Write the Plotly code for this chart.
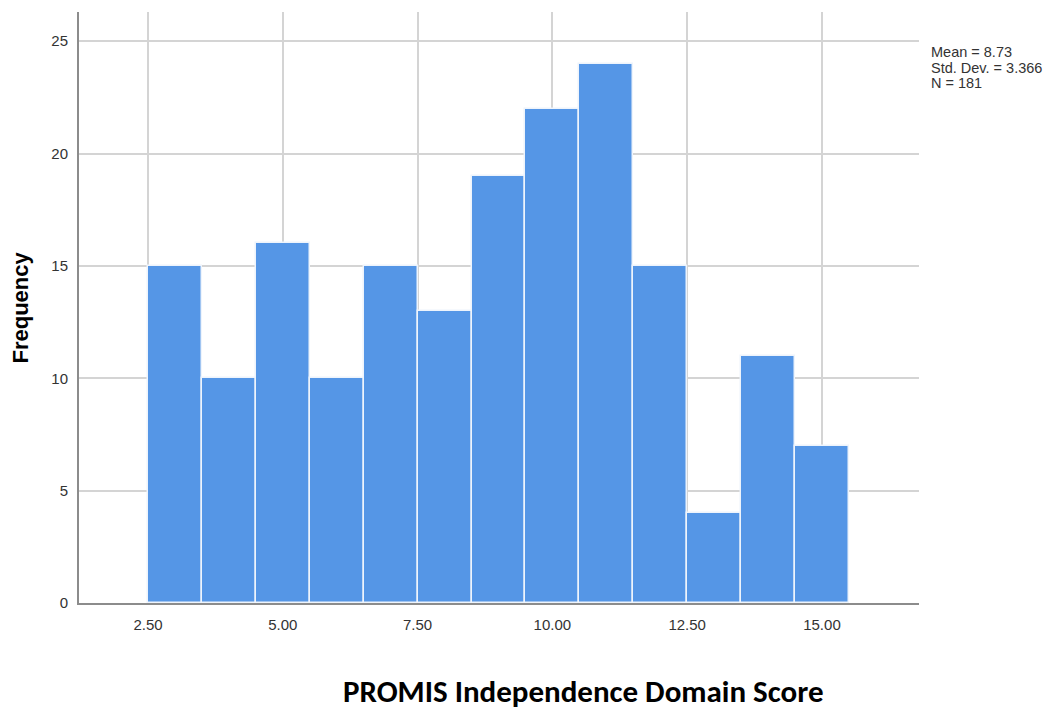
import plotly.graph_objects as go

bin_centers = [3, 4, 5, 6, 7, 8, 9, 10, 11, 12, 13, 14, 15]
frequencies = [15, 10, 16, 10, 15, 13, 19, 22, 24, 15, 4, 11, 7]
x_ticks = [2.5, 5.0, 7.5, 10.0, 12.5, 15.0]
x_tick_labels = ["2.50", "5.00", "7.50", "10.00", "12.50", "15.00"]
y_ticks = [0, 5, 10, 15, 20, 25]
stats_lines = ["Mean = 8.73", "Std. Dev. = 3.366", "N = 181"]

fig = go.Figure()
fig.add_trace(go.Bar(
    x=bin_centers, y=frequencies, width=1,
    marker=dict(color="#5596e6", line=dict(color="#eef4fc", width=1.5)),
    hoverinfo="x+y",
))

# plot area in page pixels: x 79..919, y 12..603
stat_annots = []
for i, line in enumerate(stats_lines):
    ypix = 52 + 15.5 * i
    stat_annots.append(dict(
        text=line, xref="paper", yref="paper",
        x=(929 - 79) / 840, y=(603 - ypix) / 591,
        xanchor="left", yanchor="middle", showarrow=False,
        align="left", font=dict(size=14.5, color="#333")))

fig.update_layout(
    width=1040, height=701,
    margin=dict(l=71, r=129, t=4, b=106),
    paper_bgcolor="white", plot_bgcolor="white",
    showlegend=False,
    bargap=0,
    font=dict(family="Liberation Sans, Arial, sans-serif", size=15, color="#333"),
    xaxis=dict(
        range=[1.22, 16.8], tickvals=x_ticks, ticktext=x_tick_labels,
        showgrid=True, gridcolor="#d4d4d4", gridwidth=1.5,
        showline=True, linecolor="#8c8c8c", linewidth=2,
        zeroline=False, ticks="", ticklabelstandoff=7,
    ),
    yaxis=dict(
        range=[0, 26.3], tickvals=y_ticks,
        showgrid=True, gridcolor="#d4d4d4", gridwidth=1.5,
        showline=True, linecolor="#8c8c8c", linewidth=2,
        zeroline=False, ticks="", ticklabelstandoff=6,
    ),
    annotations=stat_annots + [
        dict(text="<b>PROMIS Independence Domain Score</b>", xref="paper", yref="paper",
             x=0.6, y=-0.149, xanchor="center", yanchor="middle", showarrow=False,
             font=dict(family="Carlito, Lato, Liberation Sans, Arial, sans-serif", size=31, color="black")),
        dict(text="<b>Frequency</b>", xref="paper", yref="paper",
             x=-0.0702, y=0.5, xanchor="center", yanchor="middle", showarrow=False,
             textangle=-90, font=dict(size=22, color="black")),
    ],
)

fig.write_html("out.html")
